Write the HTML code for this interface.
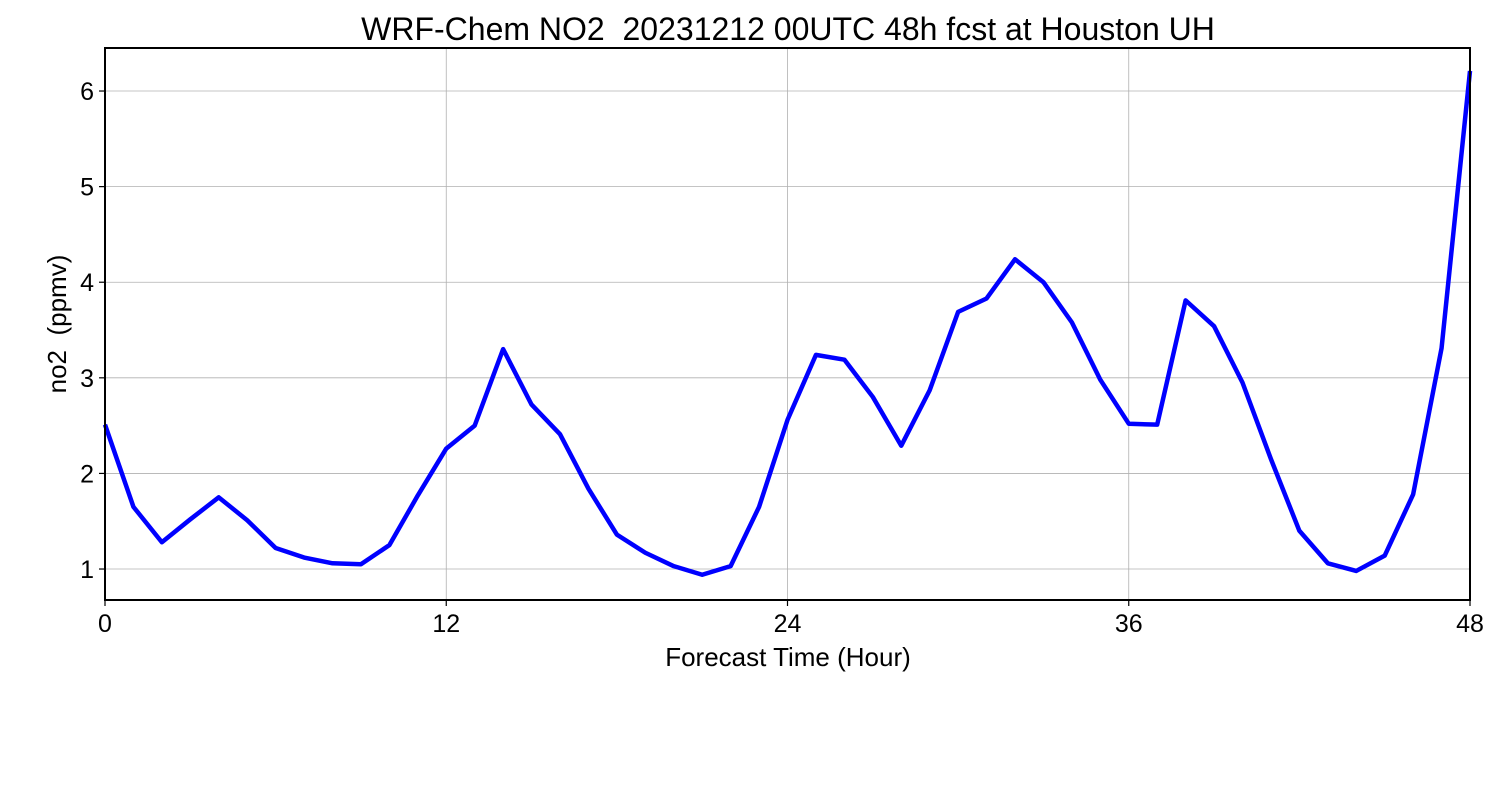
<!DOCTYPE html>
<html><head><meta charset="utf-8"><style>
html,body{margin:0;padding:0;background:#fff;}
svg{display:block;font-family:"Liberation Sans","DejaVu Sans",sans-serif;}
</style></head><body>
<svg id="chart" width="1500" height="800" viewBox="0 0 1500 800"></svg>
<script>
const hours = [];
for (let h = 0; h <= 48; h++) hours.push(h);
const no2 = [2.51,1.65,1.28,1.52,1.75,1.51,1.22,1.12,1.06,1.05,1.25,1.77,2.26,2.50,3.30,2.72,2.41,1.84,1.36,1.17,1.03,0.94,1.03,1.65,2.56,3.24,3.19,2.80,2.29,2.87,3.69,3.83,4.24,4.00,3.58,2.98,2.52,2.51,3.81,3.54,2.95,2.15,1.40,1.06,0.98,1.14,1.78,3.31,6.21];
const xTicks = [0,12,24,36,48];
const yTicks = [1,2,3,4,5,6];

const L=105,R=1470,T=48,B=600;
const xMin=0,xMax=48,yMin=0.676,yMax=6.45;
const xs=v=>L+(v-xMin)/(xMax-xMin)*(R-L);
const ys=v=>B-(v-yMin)/(yMax-yMin)*(B-T);
const svg=document.getElementById('chart');
const NS='http://www.w3.org/2000/svg';
function mk(tag,attrs,parent){const e=document.createElementNS(NS,tag);for(const k in attrs)e.setAttribute(k,attrs[k]);(parent||svg).appendChild(e);return e;}

const grid=mk('g',{});


xTicks.forEach(t=>{const l=mk('line',{x1:xs(t),x2:xs(t),y1:T,y2:B,stroke:'#b0b0b0','stroke-width':0.8},grid);

});
yTicks.forEach(t=>{const l=mk('line',{x1:L,x2:R,y1:ys(t),y2:ys(t),stroke:'#b0b0b0','stroke-width':0.8},grid);

});

const pts=hours.map((h,i)=>xs(h)+','+ys(no2[i])).join(' ');
const line=mk('polyline',{points:pts,fill:'none',stroke:'#0000ff','stroke-width':4.5,'stroke-linejoin':'round'});



const frame=mk('rect',{x:L,y:T,width:R-L,height:B-T,fill:'none',stroke:'#000','stroke-width':2});



xTicks.forEach(t=>{mk('line',{x1:xs(t),x2:xs(t),y1:B,y2:B+6,stroke:'#000','stroke-width':1.2});
const tx=mk('text',{x:xs(t),y:B+32,'text-anchor':'middle','font-size':25});tx.textContent=t;

});
yTicks.forEach(t=>{mk('line',{x1:L-6,x2:L,y1:ys(t),y2:ys(t),stroke:'#000','stroke-width':1.2});
const tx=mk('text',{x:L-11,y:ys(t)+9,'text-anchor':'end','font-size':25});tx.textContent=t;

});

const title=mk('text',{x:788,y:40,'text-anchor':'middle','font-size':32});
title.textContent='WRF-Chem NO2  20231212 00UTC 48h fcst at Houston UH';


title.setAttribute('xml:space','preserve');
title.style.whiteSpace='pre';

const xl=mk('text',{x:788,y:666,'text-anchor':'middle','font-size':26});
xl.textContent='Forecast Time (Hour)';



const yl=mk('text',{x:0,y:0,'text-anchor':'middle','font-size':26,transform:'translate(66,324) rotate(-90)'});
yl.textContent='no2  (ppmv)';
yl.style.whiteSpace='pre';


</script>
</body></html>
